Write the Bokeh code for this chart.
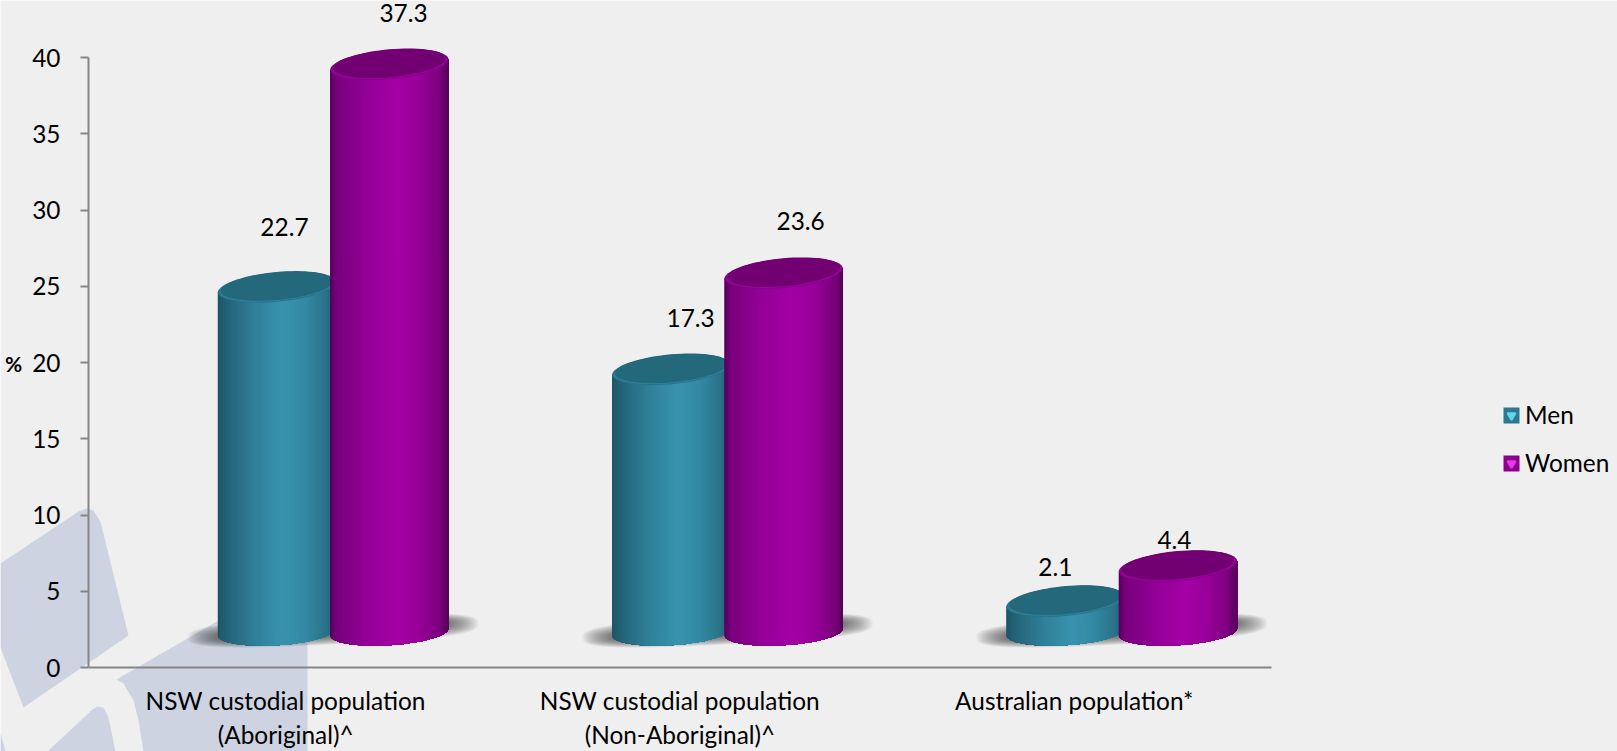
import numpy as np
from bokeh.embed import file_html
from bokeh.resources import INLINE
from bokeh.plotting import figure
from bokeh.models import Legend, LegendItem, PolyAnnotation, Range1d, FixedTicker
from bokeh.core.properties import value

# Prevalence figures, by population group and sex
categories = ["NSW custodial population\n(Aboriginal)^",
              "NSW custodial population\n(Non-Aboriginal)^",
              "Australian population*"]
men = [22.7, 17.3, 2.1]
women = [37.3, 23.6, 4.4]
y_ticks = [0, 5, 10, 15, 20, 25, 30, 35, 40]

# Nudges for the value labels, relative to each group and value
men_label_dx = [0.497, 0.527, 0.452]
women_label_dx = [0.799, 0.806, 0.754]
men_label_dy = [6.17, 5.65, 4.52]
women_label_dy = [5.62, 5.68, 3.98]

FONT = "Lato"
FONT_SIZE = "24.4px"
W, H = 1617, 751
ORIGIN_X, ORIGIN_Y = 88, 667   # page position of the axes' crossing point
PX_X, PX_Y = 394.3, 15.25      # pixels per x unit and per y unit

# Cylinder geometry in data units
BAR_W = 0.30
MEN_X, WOMEN_X = 0.328, 0.613
TOP_LIFT = 1.9                 # the 3-D view raises every top by this much
BASE_Y = 2.1
TOP_H, TOP_TILT = 0.96, 0.34
BASE_H, BASE_TILT = 0.87, 0.23

TEAL_STOPS = [(0, "#1c5566"), (0.05, "#225f73"), (0.3, "#2f7e97"), (0.55, "#3893ae"),
              (0.75, "#3388a2"), (0.92, "#2a7188"), (1, "#1f5a6c")]
PURPLE_STOPS = [(0, "#55005c"), (0.05, "#77007c"), (0.3, "#930096"), (0.55, "#a400a6"),
                (0.75, "#98009a"), (0.92, "#7c007e"), (1, "#560058")]


def hex_rgb(c):
    return np.array([int(c[i:i + 2], 16) for i in (1, 3, 5)], dtype=float)


def shade(stops, t):
    pos = [s[0] for s in stops]
    rgb = np.array([hex_rgb(s[1]) for s in stops])
    vals = [int(round(np.interp(t, pos, rgb[:, k]))) for k in range(3)]
    return "#%02x%02x%02x" % tuple(vals)


def ellipse(cx, cy, half_w, h, tilt, scale=1.0, n=72):
    a = np.linspace(0, 2 * np.pi, n, endpoint=False)
    u = np.cos(a)
    return (cx + half_w * scale * u,
            cy + tilt * scale * u + h * scale * np.sin(a))


def page_poly(xs, ys, **kw):
    # screen-unit annotations count from the frame's lower left corner, upward
    return PolyAnnotation(xs=list(xs), ys=[H - y for y in ys],
                          xs_units="screen", ys_units="screen", fill_alpha=1,
                          line_color=None, **kw)


# The frame fills the page; the axes are pinned at the data origin inside it
p = figure(width=W, height=H, output_backend="svg", toolbar_location=None,
           x_range=Range1d(-ORIGIN_X / PX_X, (W - ORIGIN_X) / PX_X),
           y_range=Range1d(-(H - ORIGIN_Y) / PX_Y, ORIGIN_Y / PX_Y),
           min_border_left=0, min_border_right=0, min_border_top=0, min_border_bottom=0,
           background_fill_color="#efefef", border_fill_color="#efefef", outline_line_color=None)
p.grid.visible = False

# Pale emblem shapes behind the plot, placed in page pixels
EMBLEM = "#cdd3e0"
emblem_shapes = [
    ([0, 78, 86, 93, 100, 128, 23, 0], [563, 511, 508, 510, 521, 635, 707, 647]),
    ([116, 213, 307, 307, 143, 138, 133, 123], [679, 623, 569, 751, 751, 720, 700, 683]),
    ([47, 92, 97, 103, 108, 115], [751, 709, 706, 707, 717, 751]),
    ([0, 5, 0], [732, 751, 751]),
]
for xs, ys in emblem_shapes:
    p.add_layout(page_poly(xs, ys, fill_color=EMBLEM, level="underlay"))


def soft_shadow(x0, x1):
    # nested translucent rounded slabs give a blurred contact shadow under a pair of bars
    half = (x1 - x0) / 2
    a = np.linspace(0, 2 * np.pi, 96, endpoint=False)
    u = np.sign(np.cos(a)) * np.abs(np.cos(a)) ** (2 / 3)
    v = np.sign(np.sin(a)) * np.abs(np.sin(a)) ** (2 / 3)
    for g in np.linspace(1, 0, 18):
        hw = half + (1 + 29 * g) / PX_X
        hh = (6 + 8 * g) / PX_Y
        p.patch((x0 + x1) / 2 + hw * u, 37 / PX_Y + 7 / PX_Y * u + hh * v,
                fill_color="#404040", fill_alpha=0.05, line_color=None)


def cylinder(x0, val, stops, cap_outer, cap_inner, rim):
    half = BAR_W / 2
    cx = x0 + half
    top_c = val + TOP_LIFT + TOP_TILT
    base_c = BASE_Y + BASE_TILT

    edges = x0 + BAR_W * (1 - np.cos(np.linspace(0, np.pi, 61))) / 2

    def base_at(x):
        u = (x - cx) / half
        return base_c + BASE_TILT * u - BASE_H * np.sqrt(np.clip(1 - u * u, 0, 1))

    def top_at(x):
        return top_c + TOP_TILT * (x - cx) / half

    # each strip reaches on to the cylinder's far side, so later strips leave no seams
    xs, ys, colors = [], [], []
    for k in range(len(edges) - 1):
        run = edges[k:]
        xs.append(np.concatenate([run, run[::-1]]))
        ys.append(np.concatenate([base_at(run), top_at(run[::-1])]))
        colors.append(shade(stops, ((edges[k] + edges[k + 1]) / 2 - x0) / BAR_W))
    p.patches(xs, ys, fill_color=colors, line_color=None)

    # top face: a light rim around a darker inset disc
    ex, ey = ellipse(cx, top_c, half, TOP_H, TOP_TILT)
    p.patch(ex, ey, fill_color=cap_outer, line_color=None)
    ex, ey = ellipse(cx, top_c, half, TOP_H, TOP_TILT, scale=0.97)
    p.patch(ex, ey + 0.03, fill_color=rim, line_color=None)
    ex, ey = ellipse(cx, top_c, half, TOP_H, TOP_TILT, scale=0.955)
    p.patch(ex, ey + 0.08, fill_color=cap_inner, line_color=None)


for i in range(len(categories)):
    soft_shadow(i + MEN_X, i + WOMEN_X + BAR_W)
    cylinder(i + MEN_X, men[i], TEAL_STOPS, "#2a7389", "#24687c", "#2f8199")
    cylinder(i + WOMEN_X, women[i], PURPLE_STOPS, "#860088", "#720072", "#9a069c")

# Value labels
label_x = [i + d for i, d in enumerate(men_label_dx)] + [i + d for i, d in enumerate(women_label_dx)]
label_y = [v + d for v, d in zip(men, men_label_dy)] + [v + d for v, d in zip(women, women_label_dy)]
label_t = [f"{v:.1f}" for v in men + women]
p.text(label_x, label_y, text=label_t, text_font=value(FONT), text_font_size=FONT_SIZE,
       text_color="#000000", text_align="center", text_baseline="middle")

# Axes
AXIS = "#868686"
xa, ya = p.xaxis[0], p.yaxis[0]
xa.fixed_location = 0
xa.ticker = FixedTicker(ticks=[i + 0.5 for i in range(len(categories))])
xa.major_label_overrides = {i + 0.5: c for i, c in enumerate(categories)}
xa.bounds = (0, 3)
xa.axis_line_color = AXIS
xa.axis_line_width = 2
xa.major_tick_line_color = None
xa.minor_tick_line_color = None
xa.major_label_text_font = FONT
xa.major_label_text_font_size = FONT_SIZE
xa.major_label_text_color = "#000000"
xa.major_label_standoff = 12

ya.fixed_location = 0
ya.ticker = FixedTicker(ticks=y_ticks)
ya.bounds = (0, 40)
ya.axis_line_color = AXIS
ya.axis_line_width = 2
ya.major_tick_line_color = AXIS
ya.major_tick_line_width = 2
ya.major_tick_out = 8
ya.major_tick_in = 0
ya.minor_tick_line_color = None
ya.major_label_text_font = FONT
ya.major_label_text_font_size = FONT_SIZE
ya.major_label_text_color = "#000000"
ya.major_label_standoff = 20

# The axis title sits level with the ticks, at the page's left edge
p.text([-75 / PX_X], [(ORIGIN_Y - 363) / PX_Y], text=["%"], text_font=value(FONT),
       text_font_size="21px", text_font_style="bold", text_color="#000000",
       text_align="center", text_baseline="middle")

# Legend keys: a flat swatch with a bright bevel triangle drawn over it
men_key = p.quad(left=[-5], right=[-4], bottom=[-50], top=[-49], fill_color="#2c788f", line_color=None)
women_key = p.quad(left=[-5], right=[-4], bottom=[-50], top=[-49], fill_color="#8a008c", line_color=None)
men_bevel = p.scatter([-5], [-50], marker="inverted_triangle", size=8,
                      fill_color="#63d3f2", line_color="#63d3f2", line_width=2)
women_bevel = p.scatter([-5], [-50], marker="inverted_triangle", size=8,
                        fill_color="#e838ea", line_color="#e838ea", line_width=2)
legend = Legend(items=[LegendItem(label="Men", renderers=[men_key, men_bevel]),
                       LegendItem(label="Women", renderers=[women_key, women_bevel])],
                location=(1501, H - 477), orientation="vertical",
                glyph_width=20, glyph_height=20, label_standoff=4, spacing=19, margin=0, padding=0,
                background_fill_alpha=0, border_line_color=None,
                label_text_font=FONT, label_text_font_size=FONT_SIZE, label_text_color="#000000",
                label_height=20)
p.add_layout(legend)

open("out.html", "w").write(file_html(p, INLINE))
